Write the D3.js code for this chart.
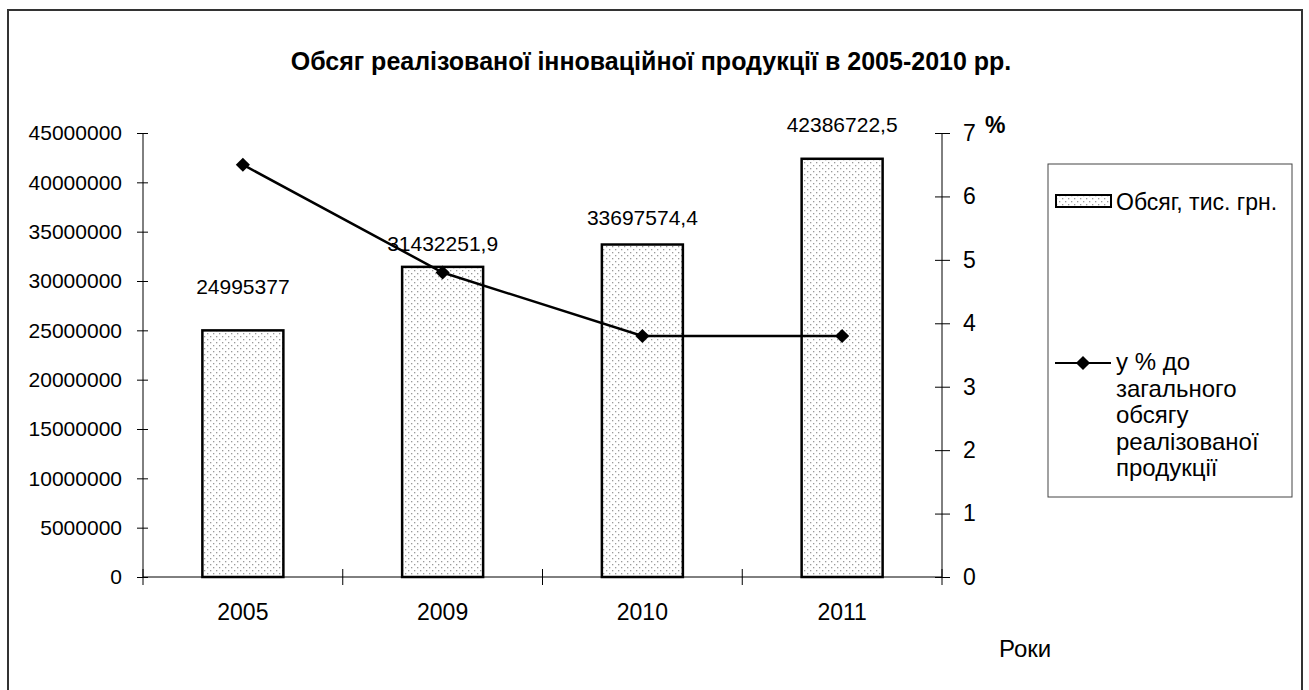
<!DOCTYPE html>
<html>
<head>
<meta charset="utf-8">
<script src="https://cdn.jsdelivr.net/npm/d3@7"></script>
<style>
  body { margin: 0; background: #fff; }
  svg { font-family: "Liberation Sans", Arial, sans-serif; }
</style>
</head>
<body>
<svg id="chart" width="1309" height="690"></svg>
<script>
// data
const years = ["2005", "2009", "2010", "2011"];
const volume = [24995377, 31432251.9, 33697574.4, 42386722.5];
const volumeLabels = ["24995377", "31432251,9", "33697574,4", "42386722,5"];
const share = [6.5, 4.8, 3.8, 3.8];
const leftTicks = [0, 5000000, 10000000, 15000000, 20000000, 25000000, 30000000, 35000000, 40000000, 45000000];
const rightTicks = [0, 1, 2, 3, 4, 5, 6, 7];

const svg = d3.select("#chart");

const plotLeft = 143, plotRight = 942, plotTop = 133, plotBottom = 577;
// value labels were placed by hand in the original, so they sit at uneven heights
const labelLift = [36, 16, 20, 27];

const x = d3.scaleBand().domain(years).range([plotLeft, plotRight]).padding(0);
const y = d3.scaleLinear().domain([0, 45000000]).range([plotBottom, plotTop]);
const y2 = d3.scaleLinear().domain([0, 7]).range([plotBottom, plotTop]);

// dotted fill
const defs = svg.append("defs");
const pat = defs.append("pattern")
    .attr("id", "dots")
    .attr("patternUnits", "userSpaceOnUse")
    .attr("width", 6).attr("height", 6);
pat.append("rect").attr("width", 6).attr("height", 6).attr("fill", "#fff");
pat.append("rect").attr("x", 0).attr("y", 0).attr("width", 1.3).attr("height", 1.3).attr("fill", "#9a9a9a");
pat.append("rect").attr("x", 3).attr("y", 3).attr("width", 1.3).attr("height", 1.3).attr("fill", "#9a9a9a");

// outer frame
svg.append("rect")
    .attr("x", 8).attr("y", 10)
    .attr("width", 1294).attr("height", 700)
    .attr("fill", "none")
    .attr("stroke", "#333")
    .attr("stroke-width", 2);

svg.append("text")
    .attr("x", 651).attr("y", 70)
    .attr("text-anchor", "middle")
    .style("font-size", "25px")
    .style("font-weight", "bold")
    .text("Обсяг реалізованої інноваційної продукції в 2005-2010 рр.");

// bars
const bw = 81;
svg.append("g").selectAll("rect")
  .data(years)
  .join("rect")
    .attr("x", (d) => x(d) + x.bandwidth() / 2 - bw / 2)
    .attr("y", (d, i) => y(volume[i]))
    .attr("width", bw)
    .attr("height", (d, i) => y(0) - y(volume[i]))
    .attr("fill", "url(#dots)")
    .attr("stroke", "#000")
    .attr("stroke-width", 2.5);

// axes
const yAxis = svg.append("g")
    .attr("transform", `translate(${plotLeft},0)`)
    .call(d3.axisLeft(y).tickValues(leftTicks).tickFormat(d3.format("d")).tickSize(6).tickPadding(15));
const y2Axis = svg.append("g")
    .attr("transform", `translate(${plotRight},0)`)
    .call(d3.axisRight(y2).tickValues(rightTicks).tickFormat(d3.format("d")).tickSize(8).tickPadding(13));
yAxis.selectAll(".tick line").attr("x1", 5);
y2Axis.selectAll(".tick line").attr("x1", -7);
[yAxis, y2Axis].forEach((a) => {
  a.select(".domain").attr("stroke", "#000");
  a.selectAll(".tick line").attr("stroke", "#000");
  a.selectAll("text").style("font-size", "21px").attr("fill", "#000");
});
y2Axis.selectAll("text").style("font-size", "23px");
yAxis.select(".domain").attr("d", `M0,${plotTop}V${plotBottom}`);
y2Axis.select(".domain").attr("d", `M0,${plotTop}V${plotBottom}`);

// x axis
const xAxis = svg.append("g");
xAxis.append("line")
    .attr("x1", plotLeft).attr("x2", plotRight)
    .attr("y1", plotBottom).attr("y2", plotBottom)
    .attr("stroke", "#000");
xAxis.selectAll(".xt")
  .data(years.concat(["end"]))
  .join("line")
    .attr("class", "xt")
    .attr("x1", (d, i) => i < years.length ? x(d) : plotRight)
    .attr("x2", (d, i) => i < years.length ? x(d) : plotRight)
    .attr("y1", plotBottom - 8).attr("y2", plotBottom + 8)
    .attr("stroke", "#000");
xAxis.selectAll("text")
  .data(years)
  .join("text")
    .attr("x", (d) => x(d) + x.bandwidth() / 2)
    .attr("y", 620)
    .attr("text-anchor", "middle")
    .style("font-size", "23px")
    .text((d) => d);

svg.append("text")
    .attr("x", 999).attr("y", 657)
    .style("font-size", "24px")
    .text("Роки");
svg.append("text")
    .attr("x", 985).attr("y", 133)
    .style("font-size", "23px")
    .style("font-weight", "bold")
    .text("%");

// line
const line = d3.line()
    .x((d, i) => x(years[i]) + x.bandwidth() / 2)
    .y((d) => y2(d));
svg.append("path")
    .datum(share)
    .attr("d", line)
    .attr("fill", "none")
    .attr("stroke", "#000")
    .attr("stroke-width", 2.5);
svg.append("g").selectAll("path")
  .data(share)
  .join("path")
    .attr("d", d3.symbol().type(d3.symbolSquare).size(100))
    .attr("transform", (d, i) => `translate(${x(years[i]) + x.bandwidth() / 2},${y2(d)}) rotate(45)`)
    .attr("fill", "#000");

// value labels
svg.append("g").selectAll("text")
  .data(volumeLabels)
  .join("text")
    .attr("x", (d, i) => x(years[i]) + x.bandwidth() / 2)
    .attr("y", (d, i) => y(volume[i]) - labelLift[i])
    .attr("text-anchor", "middle")
    .style("font-size", "21px")
    .text((d) => d);

// legend
const lg = svg.append("g");
lg.append("rect")
    .attr("x", 1048).attr("y", 164)
    .attr("width", 244).attr("height", 333)
    .attr("fill", "#fff")
    .attr("stroke", "#444")
    .attr("stroke-width", 1);
lg.append("rect")
    .attr("x", 1056).attr("y", 195)
    .attr("width", 55).attr("height", 12)
    .attr("fill", "url(#dots)")
    .attr("stroke", "#000")
    .attr("stroke-width", 2);
lg.append("text")
    .attr("x", 1116).attr("y", 210)
    .style("font-size", "23px")
    .text("Обсяг, тис. грн.");
lg.append("line")
    .attr("x1", 1055).attr("x2", 1111)
    .attr("y1", 363).attr("y2", 363)
    .attr("stroke", "#000").attr("stroke-width", 2);
lg.append("path")
    .attr("d", d3.symbol().type(d3.symbolSquare).size(100))
    .attr("transform", "translate(1083,363) rotate(45)")
    .attr("fill", "#000");
const legendLines = ["у % до", "загального", "обсягу", "реалізованої", "продукції"];
lg.append("text")
    .style("font-size", "24px")
  .selectAll("tspan")
  .data(legendLines)
  .join("tspan")
    .attr("x", 1116)
    .attr("y", (d, i) => 370 + i * 26.5)
    .text((d) => d);
</script>
</body>
</html>
